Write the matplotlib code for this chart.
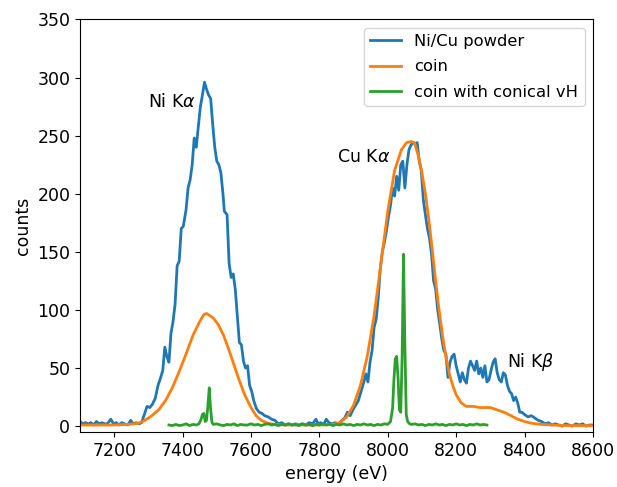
import matplotlib
matplotlib.use("Agg")
import matplotlib.pyplot as plt

# Ni/Cu powder (blue)
powder_e = [7100, 7108, 7116, 7124, 7132, 7140, 7148, 7156, 7164, 7172, 7180, 7190, 7198, 7206, 7214, 7222,
            7230, 7240, 7248, 7256, 7264, 7272, 7280, 7288, 7296, 7304, 7312, 7320, 7328, 7336, 7342, 7348,
            7354, 7360, 7366, 7372, 7378, 7384, 7390, 7396, 7402, 7410, 7416, 7422, 7428, 7434, 7440, 7446,
            7452, 7458, 7464, 7470, 7476, 7482, 7488, 7494, 7500, 7506, 7512, 7518, 7522, 7530, 7536, 7542,
            7548, 7554, 7560, 7566, 7572, 7578, 7584, 7590, 7596, 7602, 7608, 7616, 7624, 7632, 7640, 7650,
            7660, 7670, 7680, 7690, 7700, 7710, 7720, 7730, 7740, 7750, 7760, 7770, 7780, 7790, 7796, 7804,
            7812, 7820, 7828, 7836, 7846, 7856, 7866, 7874, 7882, 7890, 7898, 7906, 7914, 7922, 7930, 7936,
            7942, 7948, 7954, 7960, 7966, 7972, 7978, 7984, 7990, 7996, 8002, 8008, 8014, 8020, 8026, 8032,
            8038, 8044, 8050, 8056, 8062, 8068, 8074, 8080, 8086, 8092, 8098, 8104, 8110, 8116, 8122, 8128,
            8134, 8140, 8146, 8152, 8158, 8164, 8170, 8176, 8182, 8188, 8194, 8200, 8206, 8212, 8218, 8224,
            8230, 8236, 8242, 8248, 8254, 8260, 8266, 8272, 8278, 8284, 8290, 8296, 8302, 8308, 8314, 8320,
            8326, 8332, 8338, 8344, 8350, 8356, 8362, 8368, 8374, 8380, 8386, 8392, 8400, 8410, 8420, 8430,
            8440, 8450, 8460, 8470, 8480, 8490, 8500, 8510, 8520, 8530, 8540, 8550, 8560, 8570, 8580, 8590, 8600]
powder_c = [4, 2, 3, 2, 3, 1, 4, 2, 3, 2, 2, 6, 2, 3, 1, 3,
            2, 1, 5, 2, 3, 2, 3, 10, 17, 16, 19, 24, 35, 42, 48, 68,
            60, 55, 80, 90, 105, 138, 142, 170, 172, 186, 205, 212, 225, 248, 240, 258,
            275, 285, 296, 290, 285, 282, 260, 240, 228, 225, 218, 200, 185, 182, 140, 128,
            131, 118, 95, 72, 70, 56, 50, 52, 35, 30, 22, 15, 12, 11, 9, 8,
            6, 5, 2, 3, 1, 2, 1, 2, 1, 2, 1, 3, 2, 6, 2, 3,
            1, 6, 3, 2, 3, 2, 5, 7, 12, 9, 14, 18, 22, 30, 38, 45,
            38, 55, 65, 85, 92, 110, 135, 150, 158, 168, 180, 190, 205, 198, 215, 203,
            225, 228, 205, 225, 238, 242, 244, 243, 244, 228, 220, 195, 182, 170, 162, 148,
            125, 118, 100, 88, 75, 65, 62, 42, 55, 60, 62, 52, 45, 38, 46, 40,
            37, 50, 56, 52, 48, 56, 45, 50, 42, 52, 38, 40, 48, 55, 58, 46,
            40, 38, 46, 44, 35, 30, 28, 22, 25, 20, 12, 12, 10, 8, 9, 7,
            5, 4, 2, 3, 1, 2, 1, 0, 2, 1, 0, 2, 1, 2, 0, 1, 1]

# coin (orange)
coin_e = [7100, 7150, 7200, 7240, 7270, 7290, 7310, 7330, 7350, 7370, 7390, 7410, 7430, 7450, 7462, 7470,
          7480, 7490, 7505, 7520, 7535, 7550, 7565, 7580, 7600, 7615, 7630, 7650, 7670, 7700, 7750, 7800,
          7840, 7860, 7880, 7900, 7920, 7940, 7960, 7980, 8000, 8020, 8040, 8055, 8068, 8078, 8090, 8100,
          8110, 8120, 8130, 8140, 8150, 8160, 8170, 8180, 8190, 8200, 8215, 8230, 8250, 8270, 8300, 8320,
          8340, 8360, 8380, 8400, 8420, 8450, 8480, 8520, 8560, 8600]
coin_c = [1, 1, 1, 1.5, 2.5, 5, 9, 14, 22, 33, 47, 62, 78, 90, 96, 97,
          95, 93, 87, 78, 66, 53, 40, 28, 16, 9, 5, 2.5, 1.5, 1, 1, 1,
          1.5, 3, 8, 18, 35, 60, 95, 140, 185, 220, 238, 244, 245, 244, 232, 218,
          200, 178, 152, 125, 100, 78, 60, 45, 35, 27, 20, 17, 17, 16, 16, 14,
          12, 9, 6, 4, 2.5, 1.5, 1, 0.5, 0.5, 0.5]

# coin with conical vH (green)
vh_e = [7360, 7370, 7380, 7390, 7400, 7410, 7420, 7430, 7440, 7448, 7454, 7458, 7462, 7466, 7470, 7474,
        7478, 7482, 7486, 7490, 7500, 7510, 7520, 7530, 7540, 7550, 7560, 7570, 7580, 7590, 7600, 7610,
        7620, 7630, 7640, 7650, 7660, 7670, 7680, 7690, 7700, 7710, 7720, 7730, 7740, 7750, 7760, 7770,
        7780, 7790, 7800, 7810, 7820, 7830, 7840, 7850, 7860, 7870, 7880, 7890, 7900, 7910, 7920, 7930,
        7940, 7950, 7960, 7970, 7980, 7990, 8000, 8008, 8014, 8018, 8022, 8026, 8030, 8034, 8038, 8042,
        8046, 8050, 8054, 8058, 8064, 8070, 8080, 8090, 8100, 8110, 8120, 8130, 8140, 8150, 8160, 8170,
        8180, 8190, 8200, 8210, 8220, 8230, 8240, 8250, 8260, 8270, 8280, 8290]
vh_c = [1, 0.5, 1.5, 0.5, 1, 2, 0.5, 1.5, 1, 2, 6, 10, 11, 4, 5, 18,
        33, 14, 3, 1.5, 2, 1, 0.5, 1.5, 1, 2, 0.5, 1.5, 1, 1, 2, 1,
        1.5, 0.5, 1.5, 2, 1, 1.5, 0.5, 1.5, 1, 2, 1, 1.5, 0.5, 2, 1, 1.5,
        0.5, 1.5, 1, 2, 1, 1.5, 0.5, 1.5, 1, 2, 1, 1.5, 0.5, 1.5, 1, 2,
        1, 1.5, 0.5, 1.5, 1, 2, 1.5, 4, 15, 40, 58, 60, 42, 14, 12, 60,
        148, 70, 10, 4, 2, 1.5, 2, 1, 1.5, 0.5, 1.5, 1, 2, 1, 1.5, 0.5,
        1.5, 1, 2, 1, 1.5, 0.5, 1.5, 1, 2, 1, 1.5, 1]

labels = ["Ni/Cu powder", "coin", "coin with conical vH"]
annotations = [("Ni K$\\alpha$", 7370, 279), ("Cu K$\\alpha$", 7928, 232), ("Ni K$\\beta$", 8418, 55)]

fs = 12.5
fig = plt.figure(figsize=(6.17, 4.87), dpi=100)
ax = fig.add_axes([0.1297, 0.113, 0.8313, 0.847])
ax.plot(powder_e, powder_c, color="#1f77b4", lw=2, label=labels[0])
ax.plot(coin_e, coin_c, color="#ff7f0e", lw=2, label=labels[1])
ax.plot(vh_e, vh_c, color="#2ca02c", lw=2, label=labels[2])
for txt, x, y in annotations:
    ax.text(x, y, txt, ha="center", va="center", fontsize=fs)
ax.set_xlim(7100, 8600)
ax.set_ylim(-5, 350)
ax.set_xlabel("energy (eV)", fontsize=fs)
ax.set_ylabel("counts", fontsize=fs)
ax.tick_params(labelsize=fs)
ax.legend(loc="upper right", fontsize=11.8, labelspacing=0.62, handlelength=1.9)
fig.savefig("out.png", dpi=100)
